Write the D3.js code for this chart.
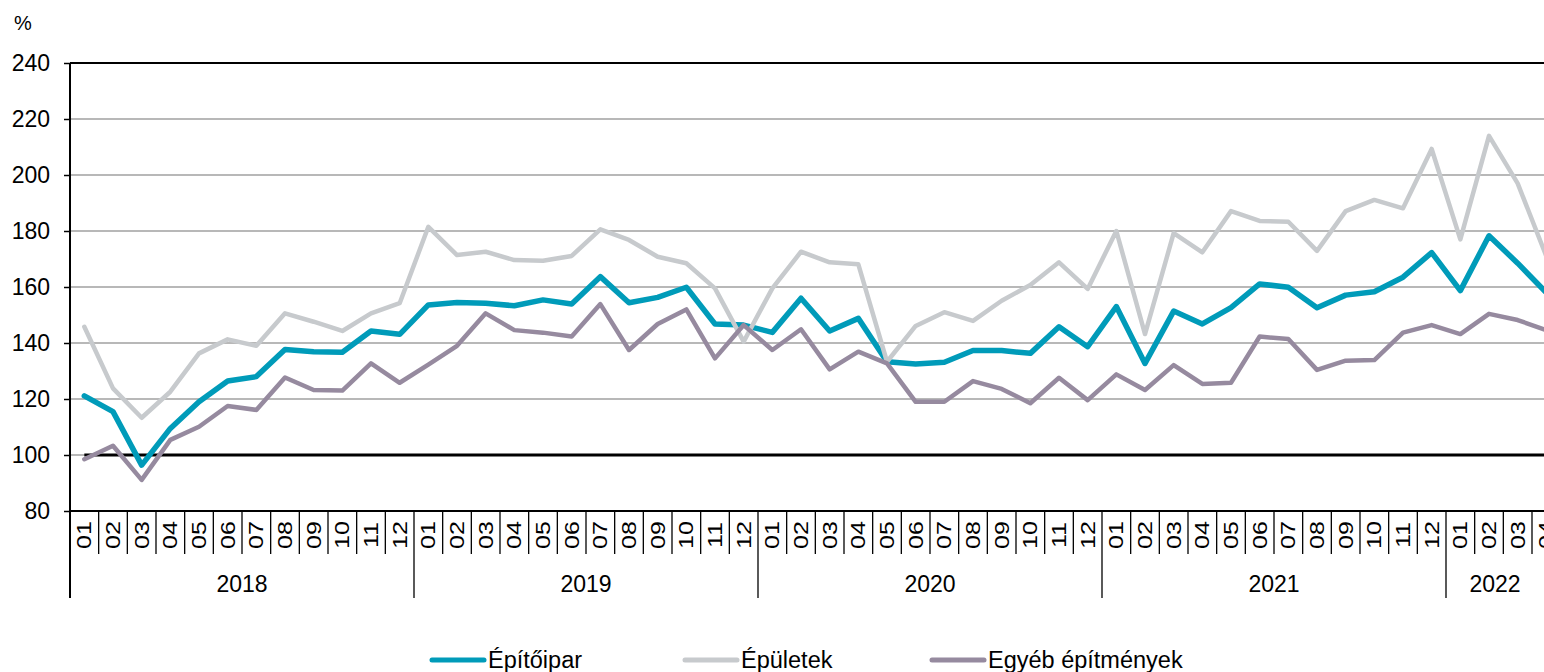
<!DOCTYPE html>
<html>
<head>
<meta charset="utf-8">
<script src="https://cdn.jsdelivr.net/npm/d3@7"></script>
<style>
  html, body { margin: 0; padding: 0; background: #fff; }
  svg { display: block; }
  text { font-family: Arial, "Liberation Sans", sans-serif; fill: #000; }
</style>
</head>
<body>
<svg id="chart" width="1544" height="672"></svg>
<script>
// ---- data ----
const years = ["2018", "2019", "2020", "2021", "2022"];
const monthsPerYear = [12, 12, 12, 12, 4];
const monthLabels = ["01","02","03","04","05","06","07","08","09","10","11","12"];
const seriesNames = ["Építőipar", "Épületek", "Egyéb építmények"];
const seriesColors = ["#009bb9", "#c7cacd", "#968a9f"];
const yTicks = [80, 100, 120, 140, 160, 180, 200, 220, 240];
const baseline = 100;

const epitoipar = [
  121.1, 115.5, 96.4, 109.5, 119.0, 126.4, 128.0, 137.7, 136.9, 136.7, 144.3, 143.1,
  153.6, 154.5, 154.2, 153.3, 155.4, 153.9, 163.7, 154.4, 156.3, 159.9, 146.8, 146.4,
  143.8, 156.0, 144.3, 148.8, 133.3, 132.5, 133.1, 137.3, 137.3, 136.3, 145.8, 138.7,
  153.0, 132.7, 151.4, 146.8, 152.6, 161.1, 159.9, 152.6, 157.1, 158.3, 163.5, 172.3,
  158.7, 178.3, 168.5, 158.0
];
const epuletek = [
  145.8, 123.8, 113.3, 122.6, 136.3, 141.3, 139.0, 150.6, 147.6, 144.3, 150.6, 154.2,
  181.5, 171.4, 172.6, 169.6, 169.4, 171.1, 180.6, 176.8, 170.8, 168.5, 159.5, 140.5,
  159.5, 172.6, 168.8, 168.1, 133.3, 146.1, 151.0, 147.9, 155.1, 160.7, 168.8, 159.3,
  180.0, 143.2, 179.2, 172.4, 187.1, 183.6, 183.3, 172.9, 187.1, 191.1, 188.1, 209.3,
  177.0, 214.0, 197.0, 171.0
];
const egyeb = [
  98.5, 103.3, 91.1, 105.4, 110.1, 117.5, 116.1, 127.7, 123.2, 123.0, 132.7, 125.8,
  132.3, 139.0, 150.6, 144.6, 143.7, 142.3, 153.9, 137.5, 146.8, 152.0, 134.5, 146.4,
  137.5, 144.9, 130.6, 136.9, 132.7, 119.0, 119.0, 126.4, 123.6, 118.5, 127.6, 119.6,
  128.8, 123.2, 132.1, 125.4, 125.8, 142.3, 141.4, 130.4, 133.7, 133.9, 143.7, 146.4,
  143.2, 150.4, 148.2, 144.6
];

(function () {
// ---- build categories ----
const cats = [];
years.forEach((yy, yi) => {
  for (let m = 0; m < monthsPerYear[yi]; m++) cats.push({ key: yy + "-" + monthLabels[m], year: yy, month: monthLabels[m] });
});
const seriesData = [epitoipar, epuletek, egyeb];

// ---- layout ----
const svg = d3.select("#chart");
const pLeft = 70, pTop = 63, pBottom = 511;
const monthW = 344 / 12;
const pRight = pLeft + cats.length * monthW;

const x = d3.scaleBand().domain(cats.map(d => d.key)).range([pLeft, pRight]).paddingInner(0).paddingOuter(0);
const y = d3.scaleLinear().domain([80, 240]).range([pBottom, pTop]);
const xc = k => x(k) + x.bandwidth() / 2;

// gridlines
svg.append("g").selectAll("line").data(yTicks.filter(t => t !== 80)).join("line")
  .attr("x1", pLeft).attr("x2", pRight)
  .attr("y1", d => y(d)).attr("y2", d => y(d))
  .attr("stroke", d => d === 240 ? "#000" : "#a0a0a0")
  .attr("stroke-width", d => d === 240 ? 2 : 1.5);

// y axis
const yAxis = d3.axisLeft(y).tickValues(yTicks).tickSize(6).tickPadding(14);
const gy = svg.append("g").attr("transform", `translate(${pLeft},0)`).call(yAxis);
gy.select(".domain").remove();
gy.selectAll(".tick line").attr("stroke", "#000").attr("stroke-width", 1.5);
gy.selectAll(".tick text").attr("font-size", "23px").attr("font-family", "Arial, 'Liberation Sans', sans-serif").attr("fill", "#000");
svg.append("line").attr("x1", pLeft).attr("x2", pLeft).attr("y1", pTop).attr("y2", 598)
  .attr("stroke", "#000").attr("stroke-width", 2);

// % label
svg.append("text").attr("x", 23).attr("y", 30).attr("text-anchor", "middle").attr("font-size", "20px").text("%");

// x axis line
svg.append("line").attr("x1", pLeft).attr("x2", pRight).attr("y1", pBottom).attr("y2", pBottom)
  .attr("stroke", "#000").attr("stroke-width", 2);

// month separators
svg.append("g").selectAll("line").data(cats.slice(1)).join("line")
  .attr("x1", d => x(d.key)).attr("x2", d => x(d.key))
  .attr("y1", pBottom).attr("y2", d => d.month === "01" ? 598 : 554)
  .attr("stroke", "#000").attr("stroke-width", 1.3);

// month labels (rotated)
svg.append("g").selectAll("text").data(cats).join("text")
  .attr("transform", d => `translate(${xc(d.key) + 0.5},535) rotate(-90) scale(1,0.8)`)
  .attr("text-anchor", "middle").attr("dominant-baseline", "central")
  .attr("font-size", "25px").text(d => d.month);

// year labels
const yearInfo = years.map(yy => {
  const ks = cats.filter(c => c.year === yy).map(c => c.key);
  return { year: yy, x0: x(ks[0]), x1: x(ks[ks.length - 1]) + x.bandwidth() };
});
svg.append("g").selectAll("text").data(yearInfo).join("text")
  .attr("x", d => (d.year === "2022" ? (d.x0 + 1544) / 2 : (d.x0 + d.x1) / 2))
  .attr("y", 592).attr("text-anchor", "middle").attr("font-size", "23px").text(d => d.year);

// baseline 100
svg.append("line")
  .attr("x1", xc(cats[0].key)).attr("x2", xc(cats[cats.length - 1].key))
  .attr("y1", y(baseline)).attr("y2", y(baseline))
  .attr("stroke", "#000").attr("stroke-width", 3);

// series lines
const line = d3.line().x((d, i) => xc(cats[i].key)).y(d => y(d));
const widths = [5.5, 4.5, 4.5];
seriesData.forEach((s, i) => {
  svg.append("path").datum(s).attr("d", line)
    .attr("fill", "none").attr("stroke", seriesColors[i]).attr("stroke-width", widths[i])
    .attr("stroke-linejoin", "round").attr("stroke-linecap", "round");
});

// legend
const legendX = [430, 683, 930];
const lg = svg.append("g");
seriesNames.forEach((n, i) => {
  lg.append("line").attr("x1", legendX[i] + 2).attr("x2", legendX[i] + 54)
    .attr("y1", 660).attr("y2", 660)
    .attr("stroke", seriesColors[i]).attr("stroke-width", 5).attr("stroke-linecap", "round");
  lg.append("text").attr("x", legendX[i] + 58).attr("y", 668).attr("font-size", "23.5px").text(n);
});
})();
</script>
</body>
</html>
